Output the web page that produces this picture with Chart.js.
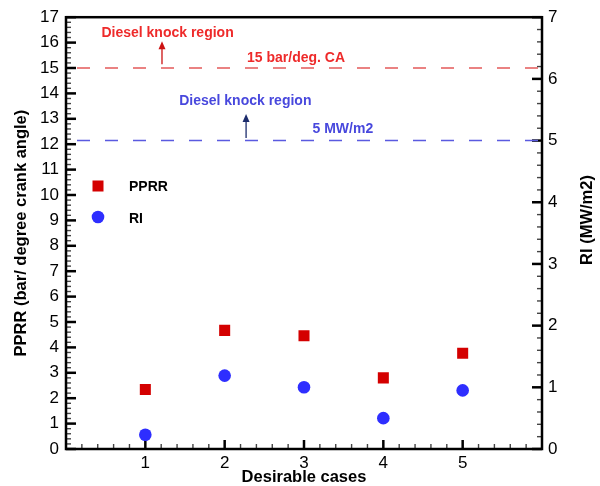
<!DOCTYPE html>
<html>
<head>
<meta charset="utf-8">
<script src="https://cdn.jsdelivr.net/npm/chart.js@4.4.0/dist/chart.umd.min.js"></script>
<style>
  html, body { margin: 0; padding: 0; background: #fff; }
  #wrap { width: 600px; height: 486px; }
</style>
</head>
<body>
<div id="wrap"><canvas id="knockChart" width="600" height="486"></canvas></div>
<script>
// Data
const cases = [1, 2, 3, 4, 5];
const pprrValues = [2.34, 4.67, 4.46, 2.80, 3.77];   // bar/deg CA, left axis
const riValues = [0.23, 1.19, 1.00, 0.50, 0.95];     // MW/m2, right axis
const pprrLimit = 15;
const riLimit = 5;
const xTickLabels = [1, 2, 3, 4, 5];

const FONT = "'Liberation Sans', Arial, sans-serif";

// Draws the frame, inward tick marks, legend and annotations
const framePlugin = {
    id: 'frame',
    beforeDatasetsDraw(chart) {
        const { ctx, chartArea: a, scales } = chart;
        ctx.save();

        function ticks(scale, max, side) {
            const n = Math.round(max / 0.2);
            for (let i = 0; i <= n; i++) {
                const v = i * 0.2;
                const major = i % 5 === 0;
                const len = major ? 10 : 5;
                ctx.beginPath();
                ctx.lineWidth = major ? 2.5 : 1.4;
                ctx.strokeStyle = major ? '#000' : '#444';
                const p = scale.getPixelForValue(v);
                if (side === 'left') { ctx.moveTo(a.left, p); ctx.lineTo(a.left + len, p); }
                if (side === 'right') { ctx.moveTo(a.right, p); ctx.lineTo(a.right - len, p); }
                if (side === 'bottom') {
                    if (i === 0 || i === n) continue;
                    ctx.moveTo(p, a.bottom); ctx.lineTo(p, a.bottom - (major ? 9 : 5));
                }
                ctx.stroke();
            }
        }
        ticks(scales.y, 17, 'left');
        ticks(scales.y1, 7, 'right');
        ticks(scales.x, 6, 'bottom');

        ctx.lineWidth = 2.5;
        ctx.strokeStyle = '#000';
        ctx.strokeRect(a.left, a.top, a.right - a.left, a.bottom - a.top);
        ctx.restore();
    },
    afterDatasetsDraw(chart) {
        const { ctx, chartArea: a, scales } = chart;
        const x = scales.x, y = scales.y, y1 = scales.y1;
        ctx.save();

        function label(text, px, py, color, size) {
            ctx.font = 'bold ' + size + 'px ' + FONT;
            ctx.fillStyle = color;
            ctx.textAlign = 'center';
            ctx.textBaseline = 'middle';
            ctx.fillText(text, px, py);
        }
        function arrow(px, from, to, color) {
            ctx.strokeStyle = color;
            ctx.fillStyle = color;
            ctx.lineWidth = 1.3;
            ctx.beginPath();
            ctx.moveTo(px, from);
            ctx.lineTo(px, to + 6);
            ctx.stroke();
            ctx.beginPath();
            ctx.moveTo(px, to);
            ctx.lineTo(px - 3.5, to + 8);
            ctx.lineTo(px + 3.5, to + 8);
            ctx.closePath();
            ctx.fill();
        }

        // PPRR limit annotations
        label('Diesel knock region', x.getPixelForValue(1.28), y.getPixelForValue(16.37), '#ee2a2a', 14);
        arrow(x.getPixelForValue(1.21), y.getPixelForValue(15.15), y.getPixelForValue(16.05), '#cc1111');
        label('15 bar/deg. CA', x.getPixelForValue(2.90), y.getPixelForValue(15.4), '#ee2a2a', 14);

        // RI limit annotations
        label('Diesel knock region', x.getPixelForValue(2.26), y1.getPixelForValue(5.64), '#4848dd', 14);
        arrow(x.getPixelForValue(2.27), y1.getPixelForValue(5.04), y1.getPixelForValue(5.43), '#1c2c6c');
        label('5 MW/m2', x.getPixelForValue(3.49), y1.getPixelForValue(5.19), '#4848dd', 14);

        // legend
        ctx.fillStyle = '#d40000';
        ctx.fillRect(a.left + 26.5, 180.5, 11, 11);
        ctx.fillStyle = '#2e2eff';
        ctx.beginPath();
        ctx.arc(a.left + 32, 217, 6.3, 0, Math.PI * 2);
        ctx.fill();
        ctx.font = 'bold 14px ' + FONT;
        ctx.fillStyle = '#000';
        ctx.textAlign = 'left';
        ctx.textBaseline = 'middle';
        ctx.fillText('PPRR', a.left + 63, 187);
        ctx.fillText('RI', a.left + 63, 219);

        // right axis title, reading bottom to top
        ctx.translate(587, 220);
        ctx.rotate(-Math.PI / 2);
        ctx.font = 'bold 16.5px ' + FONT;
        ctx.textAlign = 'center';
        ctx.fillText('RI (MW/m2)', 0, 0);
        ctx.restore();
    }
};

const ctx = document.getElementById('knockChart').getContext('2d');

new Chart(ctx, {
    type: 'scatter',
    data: {
        datasets: [
            {
                label: 'PPRR',
                data: cases.map((c, i) => ({ x: c, y: pprrValues[i] })),
                yAxisID: 'y',
                pointStyle: 'rect',
                pointRadius: 7.8,
                backgroundColor: '#d40000',
                borderWidth: 0
            },
            {
                label: 'RI',
                data: cases.map((c, i) => ({ x: c, y: riValues[i] })),
                yAxisID: 'y1',
                pointStyle: 'circle',
                pointRadius: 6.3,
                backgroundColor: '#2e2eff',
                borderWidth: 0
            },
            {
                label: 'PPRR limit',
                type: 'line',
                data: [{ x: 0, y: pprrLimit }, { x: 6, y: pprrLimit }],
                yAxisID: 'y',
                borderColor: '#e35a5a',
                borderWidth: 1.4,
                borderDash: [13, 15],
                borderDashOffset: 17,
                pointRadius: 0,
                fill: false
            },
            {
                label: 'RI limit',
                type: 'line',
                data: [{ x: 0, y: riLimit }, { x: 6, y: riLimit }],
                yAxisID: 'y1',
                borderColor: '#5a5ae0',
                borderWidth: 1.4,
                borderDash: [13, 15],
                borderDashOffset: 17,
                pointRadius: 0,
                fill: false
            }
        ]
    },
    options: {
        responsive: false,
        animation: false,
        layout: { padding: { top: 16, left: 0, right: 0, bottom: 0 } },
        plugins: {
            legend: { display: false },
            tooltip: { enabled: false }
        },
        scales: {
            x: {
                type: 'linear',
                min: 0,
                max: 6,
                afterFit: s => { s.height = 37; },
                afterBuildTicks: s => { s.ticks = xTickLabels.map(v => ({ value: v })); },
                grid: { display: false, drawTicks: false },
                border: { display: false },
                ticks: { color: '#000', padding: 4, font: { family: FONT, size: 17 } },
                title: {
                    display: true,
                    text: 'Desirable cases',
                    color: '#000',
                    padding: { top: 0, bottom: -1 },
                    font: { family: FONT, size: 16.5, weight: 'bold' }
                }
            },
            y: {
                position: 'left',
                min: 0,
                max: 17,
                afterFit: s => { s.width = 66; },
                grid: { display: false, drawTicks: false },
                border: { display: false },
                ticks: { stepSize: 1, color: '#000', padding: 7, font: { family: FONT, size: 17 } },
                title: {
                    display: true,
                    text: 'PPRR (bar/ degree crank angle)',
                    color: '#000',
                    padding: { top: 12, bottom: 0 },
                    font: { family: FONT, size: 16.5, weight: 'bold' }
                }
            },
            y1: {
                position: 'right',
                min: 0,
                max: 7,
                afterFit: s => { s.width = 58; },
                grid: { display: false, drawTicks: false },
                border: { display: false },
                ticks: { stepSize: 1, color: '#000', padding: 6, font: { family: FONT, size: 17 } }
            }
        }
    },
    plugins: [framePlugin]
});
</script>
</body>
</html>
